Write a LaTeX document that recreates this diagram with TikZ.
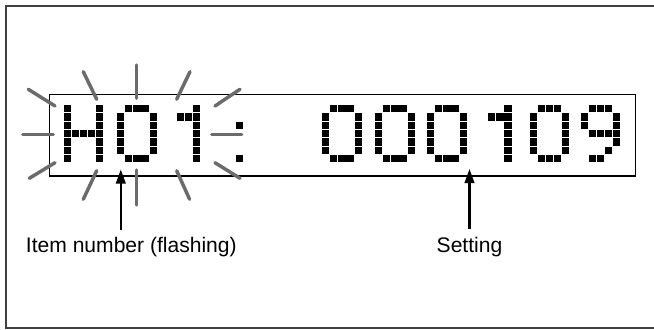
\documentclass[tikz,border=0pt]{standalone}
\usepackage{fontspec}
\setmainfont{Liberation Sans}
\usetikzlibrary{arrows.meta}
\tikzset{
  ray/.style={draw=black!58, line width=2.6pt, line cap=round},
  pointer/.style={draw=black, line width=1.6pt, -{Triangle[length=10.5pt,width=7.2pt]}},
  lbl/.style={font=\fontsize{15.8}{18}\selectfont, inner sep=0pt},
  frame/.style={draw=black!75, line width=1.2pt},
  displaybox/.style={draw=black, line width=1pt}
}
\newcommand{\dmchar}[2]{\foreach \c/\r in #2 {\fill[black] ({#1+\c*8.1-0.2},{105.1+\r*8.33}) rectangle ++(7.2,7.2);}}
\def\glH{0/0,0/1,0/2,0/3,0/4,0/5,0/6,4/0,4/1,4/2,4/3,4/4,4/5,4/6,1/3,2/3,3/3}
\def\glZero{1/0,2/0,3/0,0/1,0/2,0/3,0/4,0/5,4/1,4/2,4/3,4/4,4/5,1/6,2/6,3/6}
\def\glOne{3/0,3/1,3/2,3/3,3/4,3/5,3/6,1/1,2/1}
\def\glColon{0/2,0/6}
\def\glNine{1/0,2/0,3/0,0/1,0/2,4/1,4/2,1/3,2/3,3/3,4/3,4/4,3/5,1/6,2/6}
\begin{document}
\begin{tikzpicture}[x=0.75pt,y=-0.75pt]
\useasboundingbox (0,0) rectangle (654,329);
% outer frame (right side cut off)
\draw[frame] (665,6) -- (6,6) -- (6,328) -- (665,328);
% display box
\draw[displaybox] (49.3,94.5) rectangle (635.7,176);
% dot matrix characters
\dmchar{64}{\glH}
\dmchar{117.3}{\glZero}
\dmchar{168.7}{\glOne}
\dmchar{235.7}{\glColon}
\dmchar{322.3}{\glZero}
\dmchar{375.3}{\glZero}
\dmchar{427.3}{\glZero}
\dmchar{480.3}{\glOne}
\dmchar{530}{\glZero}
\dmchar{581}{\glNine}
% flashing rays
\draw[ray] (28.3,89.3) -- (55,106);
\draw[ray] (22.7,134.3) -- (53.3,134.3);
\draw[ray] (29.3,178.3) -- (55,162.7);
\draw[ray] (83.3,71.7) -- (96.7,99.3);
\draw[ray] (136.7,65) -- (136.7,98.3);
\draw[ray] (190,71.7) -- (176.7,99.3);
\draw[ray] (240,89.3) -- (215,106);
\draw[ray] (211.7,134.3) -- (241.7,134.3);
\draw[ray] (215,162.7) -- (240,178.3);
\draw[ray] (136.7,170) -- (136.7,205);
\draw[ray] (96.7,170.7) -- (83.3,199.3);
\draw[ray] (176.7,170.7) -- (189.6,199.3);
% arrows and labels
\coordinate (itemtip) at (120.8,169.5);
\coordinate (itemtail) at (120.8,230);
\coordinate (settip) at (469.5,169);
\coordinate (settail) at (469.5,228.5);
\draw[pointer] (itemtail) -- (itemtip);
\draw[pointer] (settail) -- (settip);
\node[lbl, anchor=base west] (itemlabel) at (25.7,252) {Item number (flashing)};
\node[lbl, anchor=base] (setlabel) at (469.5,252) {Setting};
\end{tikzpicture}
\end{document}
